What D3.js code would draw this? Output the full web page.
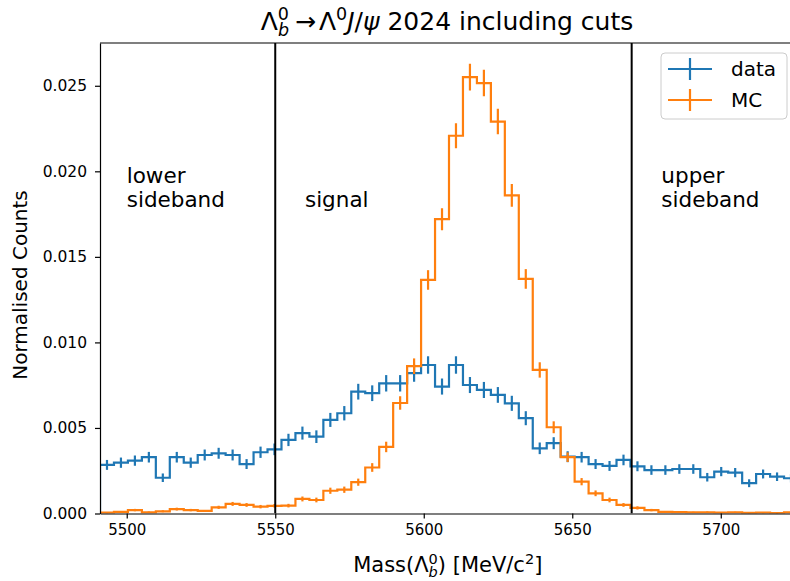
<!DOCTYPE html>
<head>
  <style>
    body { margin: 0; background: #fff; }
    text { font-family: "DejaVu Sans", sans-serif; fill: #000; }
    .axis text { font-size: 15px; }
    .axis path, .axis line { stroke: #000; stroke-width: 1.2; }
  </style>
</head>
<body>
  <script src="https://cdn.jsdelivr.net/npm/d3@7"></script>
  <script>
    // histogram binning (MeV/c^2)
    var binStart = 5491, binWidth = 4.7;

    // data histogram (normalised) and its errors
    var dataVals = [0.00284, 0.00297, 0.00309, 0.00329, 0.00209, 0.00329, 0.00297, 0.00342, 0.00352, 0.00342,
                    0.00289, 0.00358, 0.00375, 0.00430, 0.00470, 0.00449, 0.00547, 0.00586, 0.00712, 0.00703,
                    0.00761, 0.00761, 0.00820, 0.00868, 0.00742, 0.00868, 0.00751, 0.00722, 0.00693, 0.00644,
                    0.00557, 0.00381, 0.00411, 0.00332, 0.00329, 0.00289, 0.00278, 0.00313, 0.00276, 0.00254,
                    0.00254, 0.00260, 0.00260, 0.00212, 0.00245, 0.00239, 0.00177, 0.00231, 0.00215, 0.00206];
    var dataErr = [0.00029, 0.00030, 0.00030, 0.00031, 0.00025, 0.00031, 0.00030, 0.00032, 0.00032, 0.00032,
                   0.00029, 0.00033, 0.00034, 0.00036, 0.00038, 0.00037, 0.00041, 0.00042, 0.00046, 0.00046,
                   0.00048, 0.00048, 0.00050, 0.00051, 0.00047, 0.00051, 0.00047, 0.00047, 0.00046, 0.00044,
                   0.00041, 0.00034, 0.00035, 0.00032, 0.00031, 0.00029, 0.00029, 0.00031, 0.00029, 0.00028,
                   0.00028, 0.00028, 0.00028, 0.00025, 0.00027, 0.00027, 0.00023, 0.00026, 0.00025, 0.00025];

    // MC histogram (normalised) and its errors
    var mcVals = [0.00005, 0.00010, 0.00020, 0.00007, 0.00013, 0.00026, 0.00020, 0.00015, 0.00036, 0.00056,
                  0.00050, 0.00040, 0.00045, 0.00046, 0.00085, 0.00079, 0.00133, 0.00139, 0.00183, 0.00269,
                  0.00389, 0.00646, 0.00861, 0.01365, 0.01720, 0.02208, 0.02551, 0.02516, 0.02291, 0.01859,
                  0.01371, 0.00839, 0.00504, 0.00329, 0.00186, 0.00118, 0.00079, 0.00050, 0.00033, 0.00020,
                  0.00010, 0.00008, 0.00006, 0.00007, 0.00005, 0.00006, 0.00004, 0.00005, 0.00003, 0.00006];
    var mcErr = [0.000035, 0.00005, 0.00007, 0.00004, 0.000056, 0.00008, 0.00007, 0.00006, 0.000093, 0.000116,
                 0.00011, 0.00010, 0.000104, 0.000105, 0.000143, 0.000138, 0.00018, 0.000183, 0.00021, 0.000254,
                 0.000306, 0.000394, 0.000455, 0.000572, 0.000642, 0.000728, 0.000782, 0.000777, 0.000741, 0.000668,
                 0.000574, 0.000449, 0.000348, 0.000281, 0.000211, 0.000168, 0.000138, 0.00011, 0.000089, 0.00007,
                 0.00005, 0.000044, 0.000038, 0.000041, 0.000035, 0.000038, 0.000031, 0.000035, 0.000027, 0.000038];

    // region boundaries and labels
    var cutLines = [5550, 5670];
    var regionLabels = [
      {x: 5500, lines: ["lower", "sideband"]},
      {x: 5560, lines: ["signal"]},
      {x: 5680, lines: ["upper", "sideband"]}
    ];
    var labelLevel = 0.0179;   // baseline of the last line

    var xTicks = [5500, 5550, 5600, 5650, 5700];
    var yTicks = [0, 0.005, 0.010, 0.015, 0.020, 0.025];

    var series = [
      {name: "data", color: "#1f77b4", vals: dataVals, err: dataErr},
      {name: "MC", color: "#ff7f0e", vals: mcVals, err: mcErr}
    ];

    // margin convention; axes run a little past the right edge of the picture
    var margin = {top: 43, left: 100};
    var width = 698, height = 470.5;
    var W = 790, H = 581;

    var edges = d3.range(dataVals.length + 1).map(function(i) { return binStart + binWidth * i; });
    var xScale = d3.scaleLinear().domain([binStart, edges[edges.length - 1]]).range([0, width]);
    var yScale = d3.scaleLinear().domain([0, 0.0275]).range([height, 0]);

    var svg = d3.select("body").append("svg")
      .attr("width", W).attr("height", H);

    svg.append("defs").append("clipPath").attr("id", "plotclip")
      .append("rect").attr("width", width).attr("height", height);

    var g = svg.append("g").attr("transform", "translate(" + margin.left + "," + margin.top + ")");
    var plot = g.append("g").attr("clip-path", "url(#plotclip)");

    // step histograms + error bars
    series.forEach(function(s) {
      var pts = [[xScale(edges[0]), yScale(0)]];
      s.vals.forEach(function(v, i) {
        pts.push([xScale(edges[i]), yScale(v)]);
        pts.push([xScale(edges[i + 1]), yScale(v)]);
      });
      pts.push([xScale(edges[edges.length - 1]), yScale(0)]);
      plot.append("path")
        .attr("d", d3.line()(pts))
        .attr("fill", "none")
        .attr("stroke", s.color)
        .attr("stroke-width", 2.2);
      plot.append("g").selectAll("line").data(s.vals).enter().append("line")
        .attr("x1", function(d, i) { return xScale(edges[i] + binWidth / 2); })
        .attr("x2", function(d, i) { return xScale(edges[i] + binWidth / 2); })
        .attr("y1", function(d, i) { return yScale(d - s.err[i]); })
        .attr("y2", function(d, i) { return yScale(d + s.err[i]); })
        .attr("stroke", s.color)
        .attr("stroke-width", 2.2);
    });

    // region boundaries
    plot.selectAll(".cut").data(cutLines).enter().append("line")
      .attr("class", "cut")
      .attr("x1", function(d) { return xScale(d); })
      .attr("x2", function(d) { return xScale(d); })
      .attr("y1", 0).attr("y2", height)
      .attr("stroke", "#000").attr("stroke-width", 2);

    // region labels, last line sits on labelLevel
    regionLabels.forEach(function(r) {
      var n = r.lines.length;
      r.lines.forEach(function(l, i) {
        g.append("text")
          .attr("x", xScale(r.x))
          .attr("y", yScale(labelLevel) - (n - 1 - i) * 24)
          .style("font-size", "21.5px")
          .text(l);
      });
    });

    // axes
    var xAxis = d3.axisBottom(xScale).tickValues(xTicks).tickSize(5).tickPadding(6).tickSizeOuter(0)
      .tickFormat(d3.format("d"));
    g.append("g").attr("class", "axis").attr("transform", "translate(0," + height + ")").call(xAxis);

    var yAxis = d3.axisLeft(yScale).tickValues(yTicks).tickSize(5).tickPadding(8).tickSizeOuter(0)
      .tickFormat(d3.format(".3f"));
    g.append("g").attr("class", "axis").call(yAxis)
      .selectAll("text").style("font-size", "15.5px");

    // frame (top spine; right spine is outside the picture)
    g.append("line").attr("x1", 0).attr("x2", width).attr("y1", 0).attr("y2", 0)
      .attr("stroke", "#000").attr("stroke-width", 1.2);
    g.append("line").attr("x1", width).attr("x2", width).attr("y1", 0).attr("y2", height)
      .attr("stroke", "#000").attr("stroke-width", 1.2);

    // axis labels
    var xl = svg.append("text")
      .attr("x", margin.left + xScale(5600) + 24)
      .attr("y", 572)
      .attr("text-anchor", "middle")
      .style("font-size", "21px");
    xl.append("tspan").text("Mass(Λ");
    xl.append("tspan").attr("dy", -8).style("font-size", "14.5px").text("0");
    xl.append("tspan").attr("dy", 13).attr("dx", -9.2).style("font-size", "14.5px").style("font-style", "italic").text("b");
    xl.append("tspan").attr("dy", -5).text(") [MeV/c");
    xl.append("tspan").attr("dy", -8).style("font-size", "14.5px").text("2");
    xl.append("tspan").attr("dy", 8).text("]");

    svg.append("text")
      .attr("transform", "translate(27,285) rotate(-90)")
      .attr("text-anchor", "middle")
      .style("font-size", "20px")
      .text("Normalised Counts");

    // title
    var title = svg.append("text")
      .attr("x", margin.left + width / 2 - 2)
      .attr("y", 30)
      .attr("text-anchor", "middle")
      .style("font-size", "25px");
    title.append("tspan").text("Λ");
    title.append("tspan").attr("dy", -10).style("font-size", "17.5px").text("0");
    title.append("tspan").attr("dy", 16).attr("dx", -11.1).style("font-size", "17.5px").style("font-style", "italic").text("b");
    title.append("tspan").attr("dy", -6).attr("dx", 6).text("→");
    title.append("tspan").attr("dx", 3).text("Λ");
    title.append("tspan").attr("dy", -10).style("font-size", "17.5px").text("0");
    title.append("tspan").attr("dy", 10).style("font-style", "italic").text("J");
    title.append("tspan").text("/");
    title.append("tspan").style("font-style", "italic").text("ψ");
    title.append("tspan").text(" 2024 including cuts");

    // legend
    var leg = svg.append("g").attr("transform", "translate(661,53)");
    leg.append("rect").attr("width", 126).attr("height", 66).attr("rx", 4)
      .attr("fill", "#fff").attr("fill-opacity", 0.8)
      .attr("stroke", "#cccccc").attr("stroke-width", 1);
    series.forEach(function(s, i) {
      var cy = 16 + i * 31;
      leg.append("line").attr("x1", 7).attr("x2", 51).attr("y1", cy).attr("y2", cy)
        .attr("stroke", s.color).attr("stroke-width", 2.2);
      leg.append("line").attr("x1", 29).attr("x2", 29).attr("y1", cy - 11).attr("y2", cy + 11)
        .attr("stroke", s.color).attr("stroke-width", 2.2);
      leg.append("text").attr("x", 70).attr("y", cy + 7).style("font-size", "20px").text(s.name);
    });
  </script>
</body>
